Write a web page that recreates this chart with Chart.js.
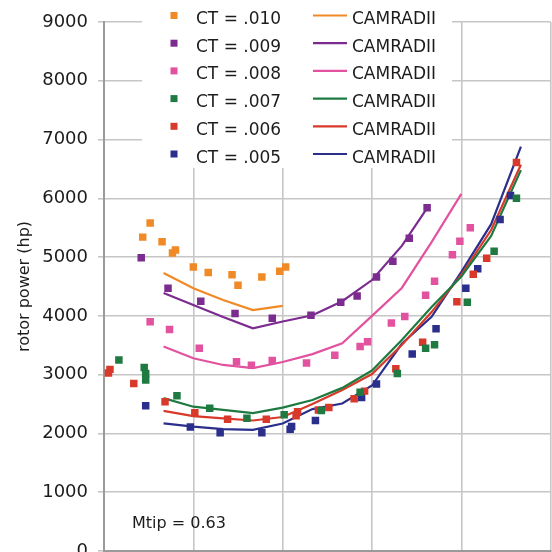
<!DOCTYPE html>
<html>
<head>
<meta charset="utf-8">
<script src="https://cdn.jsdelivr.net/npm/chart.js@4.4.1/dist/chart.umd.min.js"></script>
<style>
  body { margin: 0; background: #fff; }
  #wrap { width: 552px; height: 552px; overflow: hidden; position: relative; background: #fff; }
  canvas { display: block; }
</style>
</head>
<body>
<div id="wrap"><canvas id="powerChart" width="556" height="600"></canvas></div>
<script>
// Test points, one pair of arrays per thrust level
const testSpeed010 = [26, 31, 39, 46, 48, 60, 70, 86, 90, 106, 118, 122];
const testPower010 = [5340, 5580, 5260, 5070, 5120, 4830, 4740, 4700, 4520, 4660, 4760, 4830];
const testSpeed009 = [25, 43, 65, 88, 113, 139, 159, 170, 183, 194, 205, 217];
const testPower009 = [4990, 4470, 4250, 4040, 3960, 4010, 4230, 4340, 4660, 4930, 5320, 5840];
const testSpeed008 = [31, 44, 64, 89, 99, 113, 136, 155, 172, 177, 193, 202, 216, 222, 234, 239, 246];
const testPower008 = [3900, 3770, 3450, 3220, 3160, 3240, 3200, 3330, 3480, 3560, 3880, 3990, 4350, 4590, 5040, 5270, 5500];
const testSpeed007 = [10, 27, 28, 28, 49, 71, 96, 121, 146, 172, 197, 216, 222, 244, 262, 277];
const testPower007 = [3250, 3120, 3020, 2910, 2640, 2430, 2260, 2320, 2390, 2700, 3020, 3450, 3510, 4230, 5100, 6000];
const testSpeed006 = [4, 3, 20, 41, 61, 83, 109, 129, 130, 144, 151, 168, 175, 196, 214, 237, 248, 257, 277];
const testPower006 = [3090, 3030, 2850, 2540, 2350, 2240, 2240, 2300, 2370, 2400, 2440, 2590, 2720, 3100, 3550, 4240, 4710, 4980, 6610];
const testSpeed005 = [28, 58, 78, 106, 125, 126, 142, 173, 183, 207, 223, 243, 251, 266, 273];
const testPower005 = [2470, 2110, 2010, 2010, 2070, 2120, 2220, 2610, 2840, 3350, 3780, 4470, 4800, 5640, 6050];

// CAMRADII predictions
const camradSpeed = [40, 60, 80, 100, 120, 140, 160, 180, 200, 220, 240, 260, 280];
const camradSpeed009 = [40, 60, 80, 100, 120, 140, 160, 180, 200, 217];
const camradPower010 = [4730, 4470, 4270, 4100, 4170];
const camradPower009 = [4390, 4185, 3980, 3790, 3905, 4010, 4250, 4610, 5190, 5835];
const camradPower008 = [3480, 3280, 3165, 3110, 3215, 3350, 3535, 4000, 4475, 5255, 6075];
const camradPower007 = [2600, 2455, 2400, 2345, 2440, 2570, 2775, 3070, 3590, 4150, 4670, 5360, 6480];
const camradPower006 = [2385, 2295, 2255, 2220, 2280, 2500, 2740, 3010, 3505, 4065, 4700, 5460, 6570];
const camradPower005 = [2170, 2115, 2075, 2060, 2170, 2415, 2510, 2815, 3525, 3985, 4750, 5560, 6880];

const ctLabels = ['CT = .010', 'CT = .009', 'CT = .008', 'CT = .007', 'CT = .006', 'CT = .005'];
const modelLabel = 'CAMRADII';
const yTicks = [0, 1000, 2000, 3000, 4000, 5000, 6000, 7000, 8000, 9000];
const seriesColors = ['#f08a26', '#7c2b8e', '#e2529f', '#1f7a42', '#d8392a', '#2b2f8b'];

const FONT = "'DejaVu Sans', sans-serif";
Chart.defaults.font.family = FONT;
Chart.defaults.color = '#1c1c1c';

const toPoints = (xs, ys) => xs.map((x, i) => ({ x: x, y: ys[i] }));

const testSets = [
    [testSpeed010, testPower010], [testSpeed009, testPower009], [testSpeed008, testPower008],
    [testSpeed007, testPower007], [testSpeed006, testPower006], [testSpeed005, testPower005]
];
const modelSets = [
    [camradSpeed, camradPower010], [camradSpeed009, camradPower009], [camradSpeed, camradPower008],
    [camradSpeed, camradPower007], [camradSpeed, camradPower006], [camradSpeed, camradPower005]
];

const datasets = [];
// squares first so they sit on top of the lines
testSets.forEach(([xs, ys], i) => {
    datasets.push({
        label: ctLabels[i],
        data: toPoints(xs, ys),
        showLine: false,
        pointStyle: 'rect',
        pointRadius: 5.3,
        backgroundColor: seriesColors[i],
        borderColor: seriesColors[i],
        borderWidth: 0
    });
});
modelSets.forEach(([xs, ys], i) => {
    datasets.push({
        label: modelLabel,
        data: toPoints(xs.slice(0, ys.length), ys),
        showLine: true,
        pointRadius: 0,
        borderColor: seriesColors[i],
        borderWidth: 2.2,
        tension: 0
    });
});

// two-column key on a white box, plus the tip Mach note
const keyPlugin = {
    id: 'keyPlugin',
    beforeDatasetsDraw(chart) {
        const ctx = chart.ctx;
        ctx.save();
        ctx.fillStyle = '#fff';
        ctx.fillRect(142, 0, 310, 168);
        ctx.font = '17px ' + FONT;
        ctx.textBaseline = 'alphabetic';
        ctLabels.forEach((label, i) => {
            const y = 15.5 + i * 27.7;
            ctx.fillStyle = seriesColors[i];
            ctx.fillRect(170.5, y - 3.5, 7, 7);
            ctx.fillStyle = '#1c1c1c';
            ctx.fillText(label, 196, y + 8.5);
            ctx.strokeStyle = seriesColors[i];
            ctx.lineWidth = 2.2;
            ctx.beginPath();
            ctx.moveTo(313, y);
            ctx.lineTo(347, y);
            ctx.stroke();
            ctx.fillText(modelLabel, 352, y + 8.5);
        });
        ctx.restore();
    },
    afterDraw(chart) {
        const ctx = chart.ctx;
        ctx.save();
        ctx.font = '16px ' + FONT;
        ctx.fillStyle = '#1c1c1c';
        ctx.fillText('Mtip = 0.63', 132, 528);
        ctx.restore();
    }
};

new Chart(document.getElementById('powerChart'), {
    type: 'scatter',
    data: { datasets: datasets },
    plugins: [keyPlugin],
    options: {
        responsive: false,
        animation: false,
        devicePixelRatio: 1,
        layout: { padding: { top: 22, right: 3, left: 0, bottom: 0 } },
        plugins: { legend: { display: false }, tooltip: { enabled: false } },
        scales: {
            x: {
                type: 'linear',
                min: 0,
                max: 300,
                ticks: { display: false, stepSize: 60 },
                grid: { color: '#c6c6c6', lineWidth: 1.6, drawTicks: false },
                border: { color: '#9a9a9a', width: 2 },
                afterFit: (scale) => { scale.height = 49; }
            },
            y: {
                min: 0,
                max: 9000,
                afterBuildTicks: (scale) => { scale.ticks = yTicks.map(v => ({ value: v })); },
                ticks: {
                    padding: 10,
                    font: { size: 18, family: FONT },
                    color: '#1c1c1c',
                    callback: (v) => String(v)
                },
                grid: { color: '#c6c6c6', lineWidth: 1.6, tickLength: 6 },
                border: { color: '#9a9a9a', width: 2 },
                title: {
                    display: true,
                    text: 'rotor power (hp)',
                    font: { size: 16, family: FONT },
                    color: '#1c1c1c',
                    padding: { top: 15, bottom: 0 }
                },
                afterFit: (scale) => { scale.width = 104; }
            }
        }
    }
});
</script>
</body>
</html>
